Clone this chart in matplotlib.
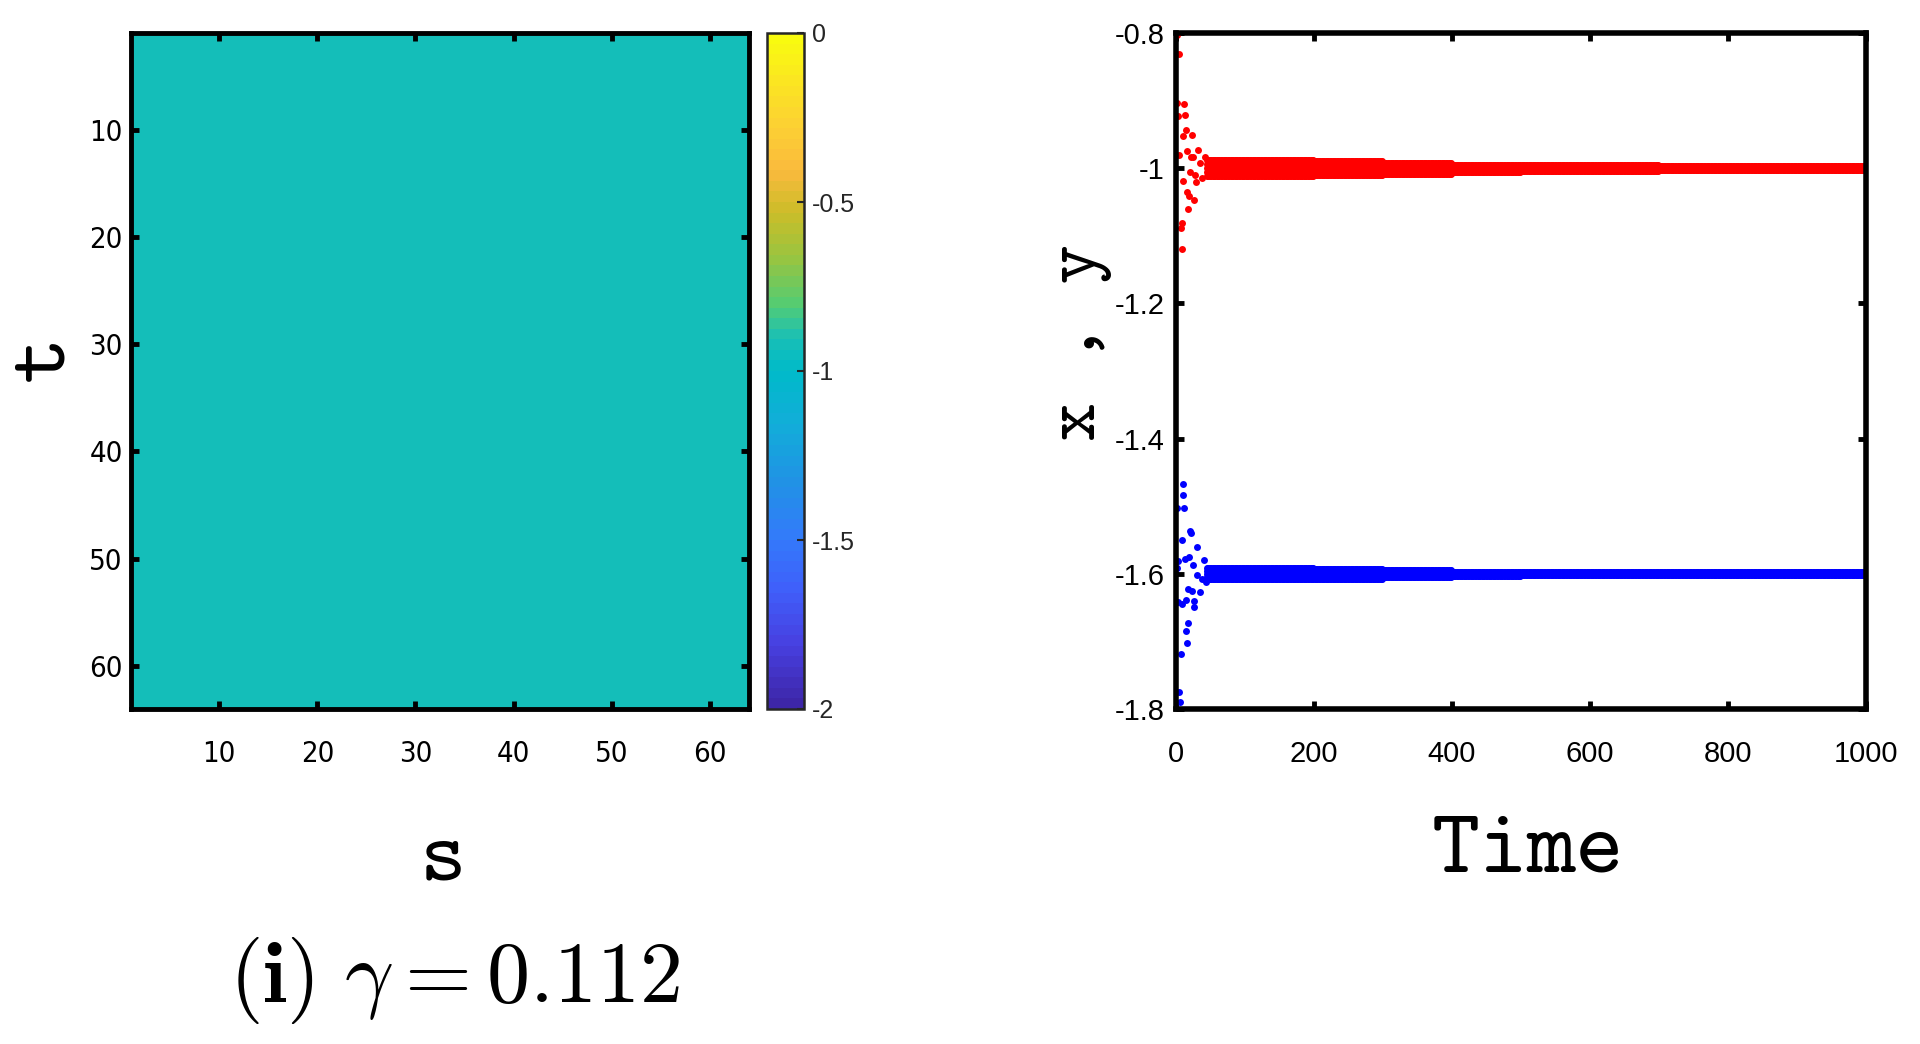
import numpy as np
import matplotlib
matplotlib.use('Agg')
from matplotlib import pyplot as plt
from matplotlib.colors import LinearSegmentedColormap

plt.rcParams['mathtext.fontset'] = 'cm'
plt.rcParams['axes.unicode_minus'] = False

# --- data ---
n_grid = 64
heat_level = -0.92         # space-time plot is uniform
clim = (-2, 0)

# transient of x (red) and y (blue)
x_t = [1, 2, 3.4, 4.4, 4.8, 6.8, 8, 9, 10.6, 10.6, 12, 13, 14, 15.5, 16.4,
       17.9, 19.3, 20, 21.7, 22.7, 25, 26.5, 27, 29, 32, 35, 37, 42]
x_v = [-0.803, -0.904, -0.923, -0.831, -0.980, -1.089, -1.119, -1.081, -0.953,
       -1.019, -0.905, -0.921, -0.943, -0.975, -1.035, -1.061, -1.041, -1.005,
       -0.983, -0.951, -0.984, -1.047, -1.010, -1.020, -0.973, -0.993, -1.015,
       -0.983]
y_t = [1, 2, 3.4, 3.4, 4.4, 5.8, 6.8, 8, 9, 9.7, 10.6, 12, 13, 14.5, 14.5,
       16.4, 17, 18, 19, 20, 21.7, 22.7, 25, 26, 26, 30, 31, 35.5, 37, 40, 44]
y_v = [-1.502, -1.591, -1.581, -1.642, -1.775, -1.790, -1.718, -1.644, -1.550,
       -1.483, -1.467, -1.502, -1.578, -1.639, -1.684, -1.703, -1.673, -1.622,
       -1.575, -1.537, -1.540, -1.625, -1.587, -1.640, -1.649, -1.602, -1.560,
       -1.627, -1.607, -1.580, -1.612]

# settled state: level and half-width of the dotted band per time segment
x_level = -1.0
y_level = -1.6
seg_edges = [45, 100, 200, 300, 400, 500, 700, 1001]
x_spread = [0.012, 0.012, 0.010, 0.008, 0.005, 0.004, 0.003]
y_spread = [0.008, 0.008, 0.007, 0.005, 0.003, 0.002, 0.002]

# parula-like colour map sampled from the colour bar
cmap_pos = [0.0, 0.09, 0.17, 0.25, 0.33, 0.42, 0.5, 0.55, 0.6, 0.67, 0.74,
            0.8, 0.87, 1.0]
cmap_col = [(0.24, 0.15, 0.66), (0.28, 0.25, 0.88), (0.25, 0.37, 0.98),
            (0.20, 0.48, 0.98), (0.13, 0.57, 0.90), (0.07, 0.68, 0.85),
            (0.00, 0.73, 0.79), (0.10, 0.75, 0.71), (0.33, 0.80, 0.45),
            (0.60, 0.77, 0.25), (0.80, 0.74, 0.16), (0.98, 0.73, 0.24),
            (0.99, 0.82, 0.20), (0.976, 0.984, 0.06)]
parula = LinearSegmentedColormap.from_list('parula', list(zip(cmap_pos, cmap_col)), N=64)

fig = plt.figure(figsize=(19.2, 10.44), dpi=100)

tt = 'cmtt10'

# --- left: space-time plot ---
ax1 = fig.add_axes([131/1920, 1-709/1044, 618/1920, 676/1044])
heat = np.full((n_grid, n_grid), heat_level)
im = ax1.imshow(heat, cmap=parula, vmin=clim[0], vmax=clim[1], aspect='auto',
                extent=(0.5, n_grid + 0.5, n_grid + 0.5, 0.5), interpolation='nearest')
ax1.set_xlim(1, 64)
ax1.set_ylim(64, 1)
ax1.set_xticks([10, 20, 30, 40, 50, 60])
ax1.set_yticks([10, 20, 30, 40, 50, 60])
for s in ax1.spines.values():
    s.set_linewidth(3.5)
ax1.tick_params(direction='in', length=6, width=3.5, top=True, right=True)
ax1.tick_params(axis='x', pad=22)
ax1.tick_params(axis='y', pad=6)
for lab in ax1.get_xticklabels() + ax1.get_yticklabels():
    lab.set_family('DejaVu Sans')
    lab.set_stretch('condensed')
    lab.set_fontsize(21)

# colour bar
cax = fig.add_axes([767/1920, 1-709/1044, 37/1920, 676/1044])
cb = fig.colorbar(im, cax=cax, ticks=[-2, -1.5, -1, -0.5, 0])
cb.ax.set_yticklabels(['-2', '-1.5', '-1', '-0.5', '0'])
cb.outline.set_linewidth(1.8)
cb.outline.set_edgecolor('#262626')
cb.ax.tick_params(direction='in', length=5, width=1.5, color='#262626', pad=6,
                  labelsize=18, labelcolor='#262626')
for lab in cb.ax.get_yticklabels():
    lab.set_family('Liberation Sans')

# --- right: time series ---
ax2 = fig.add_axes([1176/1920, 1-709/1044, 690/1920, 676/1044])
t_band = np.arange(45, 1001, 2)
seg = np.searchsorted(seg_edges, t_band, side='right') - 1
xs = np.array(x_spread)[seg]
ys = np.array(y_spread)[seg]
for off in (-1, -0.5, 0, 0.5, 1):
    ax2.plot(t_band, x_level + off * xs, ls='none', marker='o', ms=5, mew=0, color='red')
    ax2.plot(t_band, y_level + off * ys, ls='none', marker='o', ms=5, mew=0, color='blue')
ax2.plot(x_t, x_v, ls='none', marker='o', ms=5, mew=0, color='red', clip_on=False)
ax2.plot(y_t, y_v, ls='none', marker='o', ms=5, mew=0, color='blue', clip_on=False)
ax2.set_xlim(0, 1000)
ax2.set_ylim(-1.8, -0.8)
ax2.set_xticks([0, 200, 400, 600, 800, 1000])
ax2.set_yticks([-1.8, -1.6, -1.4, -1.2, -1, -0.8])
ax2.set_yticklabels(['-1.8', '-1.6', '-1.4', '-1.2', '-1', '-0.8'])
for s in ax2.spines.values():
    s.set_linewidth(4)
ax2.tick_params(direction='in', length=6, width=3.5, top=True, right=True)
ax2.tick_params(axis='x', pad=22)
ax2.tick_params(axis='y', pad=8)
for lab in ax2.get_xticklabels() + ax2.get_yticklabels():
    lab.set_family('Liberation Sans')
    lab.set_fontsize(21)

# axis labels and caption
fig.text(443/1920, 1-863/1044, 's', family=tt, fontsize=64, ha='center', va='center')
fig.text(45/1920, 1-358/1044, 't', family=tt, fontsize=64, ha='center', va='center', rotation=90)
fig.text(1528/1920, 1-853/1044, 'Time', family=tt, fontsize=66, ha='center', va='center')
fig.text(1080/1920, 1-343/1044, 'x , y', family=tt, fontsize=54, ha='center', va='center', rotation=90)
fig.text(455/1920, 1-980/1044, r'$(\mathbf{i})\ \gamma = 0.112$', fontsize=62,
         ha='center', va='center')

fig.savefig('out.png', dpi=100)
